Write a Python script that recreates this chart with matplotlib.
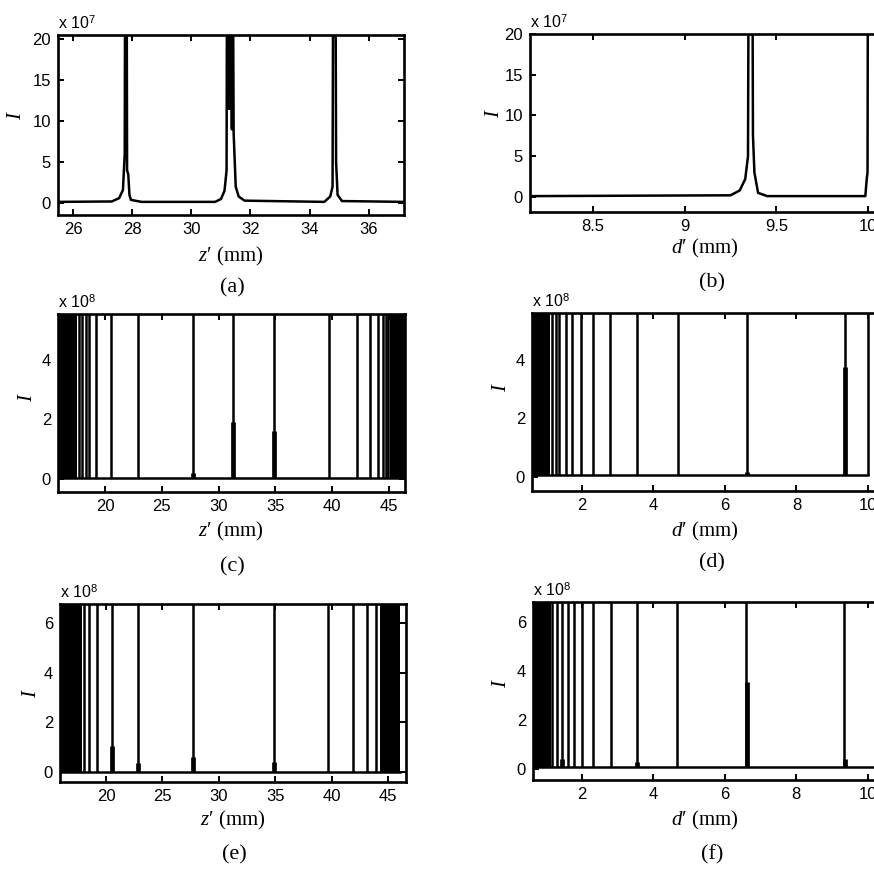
import matplotlib
matplotlib.use("Agg")
import matplotlib.pyplot as plt

plt.rcParams['font.family'] = ['Liberation Sans', 'DejaVu Sans']
plt.rcParams['mathtext.fontset'] = 'custom'
plt.rcParams['mathtext.rm'] = 'Liberation Serif'
plt.rcParams['mathtext.it'] = 'Liberation Serif:italic'
plt.rcParams['mathtext.sf'] = 'Liberation Sans'

# ---------------- data ----------------
# (a) intensity (x1e7) vs z' (mm)
a_z = [25.48, 27.3, 27.55, 27.68, 27.74, 27.76, 27.80, 27.82, 27.86, 27.90, 27.95, 28.3,
       30.8, 31.0, 31.12, 31.19, 31.21, 31.25, 31.27, 31.31, 31.33, 31.37, 31.39, 31.43,
       31.5, 31.6, 31.8, 34.5, 34.7, 34.78, 34.81, 34.87, 34.90, 34.95, 35.1, 37.2]
a_I = [0.15, 0.2, 0.6, 1.6, 6, 40, 40, 4, 3.5, 1.0, 0.4, 0.15,
       0.15, 0.5, 1.5, 4, 40, 11.5, 40, 11.5, 40, 9, 40, 8.5,
       2.0, 0.8, 0.3, 0.15, 0.8, 2, 40, 40, 5, 1, 0.25, 0.15]

# (b) intensity (x1e7) vs d' (mm)
b_d = [8.156, 9.25, 9.30, 9.33, 9.345, 9.350, 9.368, 9.372, 9.38, 9.40, 9.45,
       9.985, 9.993, 9.997, 10.0]
b_I = [0.1, 0.2, 0.8, 2.2, 5, 40, 40, 7.6, 3, 0.5, 0.1,
       0.1, 2.3, 3, 40]

# (c) z' scan, x1e8
c_peaks = [17.74, 17.95, 18.33, 18.59, 19.21, 20.5, 22.93, 27.72, 31.24, 34.9,
           39.74, 42.16, 43.33, 44.06, 44.5, 44.74, 44.94]
c_dense = [(15.86, 17.53), (45.09, 46.4)]
c_sh_pos = [27.72, 31.3, 34.9]
c_sh_h = [0.2, 1.9, 1.6]
c_base = 0.03
c_range = (15.86, 46.4)

# (d) d' scan, x1e8
d_peaks = [1.18, 1.27, 1.37, 1.55, 1.74, 1.98, 2.32, 2.79, 3.54, 4.69, 6.62, 9.36, 10.0]
d_dense = [(0.612, 1.11)]
d_sh_pos = [9.37, 6.63]
d_sh_h = [3.77, 0.15]
d_base = 0.06
d_range = (0.612, 10.0)

# (e) z' scan, x1e8
e_peaks = [18.08, 18.52, 19.18, 20.5, 22.86, 27.71, 34.88, 39.65, 41.85, 43.09, 43.91]
e_dense = [(15.93, 17.85), (44.27, 46.04)]
e_sh_pos = [20.5, 22.86, 27.71, 34.88]
e_sh_h = [1.05, 0.35, 0.62, 0.4]
e_base = 0.02
e_range = (15.93, 46.04)

# (f) d' scan, x1e8
f_peaks = [1.18, 1.30, 1.44, 1.61, 1.79, 2.02, 2.32, 2.82, 3.54, 4.67, 6.6, 9.35]
f_dense = [(0.638, 1.14)]
f_sh_pos = [6.62, 9.36, 3.55, 1.45]
f_sh_h = [3.56, 0.4, 0.3, 0.4]
f_base = 0.08
f_range = (0.638, 10.43)

# ---------------- figure ----------------
W, H = 874, 869
fig = plt.figure(figsize=(W / 100, H / 100), dpi=100)

LW = 1.8


def add_ax(L, T, R, B):
    return fig.add_axes([L / W, 1 - B / H, (R - L) / W, (B - T) / H])


def style(ax, xlim, ylim, xt, yt, xtl=None):
    ax.set_xlim(*xlim)
    ax.set_ylim(*ylim)
    ax.set_xticks(xt)
    if xtl is not None:
        ax.set_xticklabels(xtl)
    ax.set_yticks(yt)
    ax.tick_params(direction='in', top=True, right=True, length=4, width=1.4,
                   labelsize=12, pad=5)
    for s in ax.spines.values():
        s.set_linewidth(1.9)


def ftext(x, y, s, **kw):
    fig.text(x / W, 1 - y / H, s, ha='center', va='center', **kw)


def offset(ax, exp):
    ax.text(0.0, 1.015, r"x 10$^{\mathsf{%d}}$" % exp, transform=ax.transAxes,
            ha='left', va='bottom', fontsize=11.5)


def scan(ax, peaks, dense, sh_pos, sh_h, base, rng):
    ax.plot(list(rng), [base, base], color='k', lw=LW)
    ax.vlines(peaks, base, 100, color='k', lw=LW)
    for s, e in dense:
        ax.fill_between([s, e], base, 100, color='k', lw=0)
    ax.vlines(sh_pos, base, sh_h, color='k', lw=3.4)


serif = dict(family='Liberation Serif')
ZLAB = r"$z$′ (mm)"
DLAB = r"$d$′ (mm)"

# (a)
ax = add_ax(58, 35, 404, 215)
ax.plot(a_z, a_I, color='k', lw=LW)
style(ax, (25.48, 37.2), (-1.45, 20.5), [26, 28, 30, 32, 34, 36], [0, 5, 10, 15, 20])
offset(ax, 7)
ftext(231, 256, ZLAB, fontsize=15, **serif)
ftext(232, 288, "(a)", fontsize=16, **serif)
ftext(17, 117, "I", fontsize=15, style='italic', rotation=90, **serif)

# (b)
ax = add_ax(530, 34, 880, 212)
ax.plot(b_d, b_I, color='k', lw=LW)
style(ax, (8.156, 10.065), (-1.85, 20), [8.5, 9, 9.5, 10], [0, 5, 10, 15, 20],
      ['8.5', '9', '9.5', '10'])
offset(ax, 7)
ftext(705, 248, DLAB, fontsize=15, **serif)
ftext(712, 283, "(b)", fontsize=16, **serif)
ftext(495, 115, "I", fontsize=15, style='italic', rotation=90, **serif)

# (c)
ax = add_ax(58, 314, 405, 492)
scan(ax, c_peaks, c_dense, c_sh_pos, c_sh_h, c_base, c_range)
style(ax, (15.86, 46.4), (-0.44, 5.55), [20, 25, 30, 35, 40, 45], [0, 2, 4])
offset(ax, 8)
ftext(231, 531, ZLAB, fontsize=15, **serif)
ftext(232, 567, "(c)", fontsize=16, **serif)
ftext(28, 398, "I", fontsize=15, style='italic', rotation=90, **serif)

# (d)
ax = add_ax(532, 313, 882, 491)
scan(ax, d_peaks, d_dense, d_sh_pos, d_sh_h, d_base, d_range)
style(ax, (0.612, 10.39), (-0.49, 5.61), [2, 4, 6, 8, 10], [0, 2, 4])
offset(ax, 8)
ftext(705, 531, DLAB, fontsize=15, **serif)
ftext(712, 563, "(d)", fontsize=16, **serif)
ftext(502, 388, "I", fontsize=15, style='italic', rotation=90, **serif)

# (e)
ax = add_ax(60, 604, 406, 782)
scan(ax, e_peaks, e_dense, e_sh_pos, e_sh_h, e_base, e_range)
style(ax, (15.93, 46.57), (-0.4, 6.77), [20, 25, 30, 35, 40, 45], [0, 2, 4, 6])
offset(ax, 8)
ftext(233, 820, ZLAB, fontsize=15, **serif)
ftext(234, 855, "(e)", fontsize=16, **serif)
ftext(32, 695, "I", fontsize=15, style='italic', rotation=90, **serif)

# (f)
ax = add_ax(533, 602, 883, 780)
scan(ax, f_peaks, f_dense, f_sh_pos, f_sh_h, f_base, f_range)
style(ax, (0.638, 10.43), (-0.45, 6.8), [2, 4, 6, 8, 10], [0, 2, 4, 6])
offset(ax, 8)
ftext(705, 820, DLAB, fontsize=15, **serif)
ftext(712, 855, "(f)", fontsize=16, **serif)
ftext(502, 684, "I", fontsize=15, style='italic', rotation=90, **serif)

fig.savefig("out.png", dpi=100)
